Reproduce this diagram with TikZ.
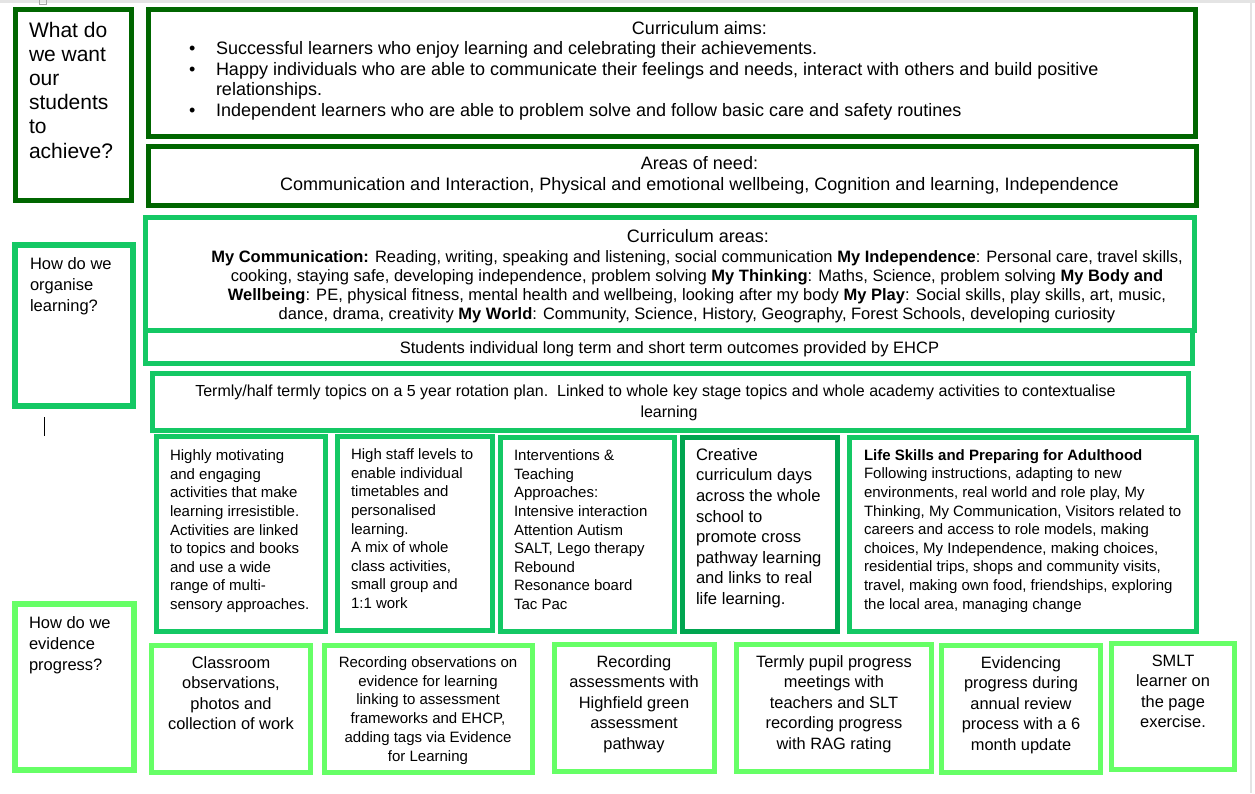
\documentclass[tikz,border=0pt]{standalone}
\usepackage{fontspec}
\setmainfont{Liberation Sans}
\definecolor{dkgreen}{HTML}{006600}
\definecolor{mdgreen}{HTML}{14C864}
\definecolor{bxgreen}{HTML}{00A550}
\definecolor{ltgreen}{HTML}{66FF66}
\definecolor{pagegray}{HTML}{E4E4E4}
\newcommand\bx[7]{%
  \node[boxnode, draw=#7, line width=#6pt, minimum width={#4-#2-#6}, minimum height={#5-#3-#6}] (#1) at ({(#2+#4)/2},{(#3+#5)/2}) {};}
\begin{document}
\begin{tikzpicture}[x=1pt,y=-1pt,
  boxnode/.style={inner sep=0, outer sep=0, fill=white},
  txt/.style={inner sep=0, outer sep=0, align=left, anchor=base west},
  ctxt/.style={inner sep=0, outer sep=0, align=center, anchor=base},
  fA/.style={font={\fontsize{21}{24.2}\selectfont}},
  fB/.style={font={\fontsize{18}{20.6}\selectfont}},
  fC/.style={font={\fontsize{16.5}{19}\selectfont}},
  fD/.style={font={\fontsize{16.5}{21}\selectfont}},
  fE/.style={font={\fontsize{15}{18.6}\selectfont}},
  fF/.style={font={\fontsize{16.6}{20.6}\selectfont}},
  fG/.style={font={\fontsize{16.4}{20.5}\selectfont}},
  fH/.style={font={\fontsize{15}{18.7}\selectfont}},
  fI/.style={font={\fontsize{16}{21}\selectfont}},
]
\useasboundingbox (0,0) rectangle (1255,793);
\fill[white] (0,0) rectangle (1255,793);
% page chrome
\fill[pagegray] (0,0) rectangle (1255,3);
\fill[pagegray] (1250,0) rectangle (1252,793);
\draw[gray!70, line width=0.8] (39,-2) rectangle (46,4);
\draw[black, line width=1] (44,417) -- (44,436);

% ---------- top section (dark green)
\bx{qA}{13}{7}{134}{203}{5}{dkgreen}
\bx{aims}{146}{7}{1198}{139}{5}{dkgreen}
\bx{need}{146}{144}{1199}{208}{5}{dkgreen}

% multi-line nodes: anchor is the baseline of the LAST line
\node[txt, fA] (qAt) at (29,158) {What do\\we want\\our\\students\\to\\achieve?};

\node[ctxt, fB] (aimsT) at (699.5,34.5) {Curriculum aims:};
\node[txt, fB] (aimsB) at (189,116.5) {•\\•\\\mbox{}\\•};
\node[txt, fB] (aimsL) at (216,116.5) {Successful learners who enjoy learning and celebrating their achievements.\\Happy individuals who are able to communicate their feelings and needs, interact with others and build positive\\relationships.\\Independent learners who are able to problem solve and follow basic care and safety routines};

\node[ctxt, fB] (needT) at (699.5,190.2) {Areas of need:\\Communication and Interaction, Physical and emotional wellbeing, Cognition and learning, Independence};

% ---------- middle section (medium green)
\bx{qB}{12}{242}{136}{409}{6}{mdgreen}
\bx{ehcp}{143}{328}{1195}{366}{5}{mdgreen}
\bx{areas}{143}{215}{1197}{333}{5}{mdgreen}
\bx{termly}{150}{371}{1191}{433}{5}{mdgreen}

\node[txt, fD] (qBt) at (30,311) {How do we\\organise\\learning?};

\node[ctxt, fB] (areasT) at (698,242.5) {Curriculum areas:};
\node[ctxt, fC] (areasB) at (697,319) {\textbf{My Communication:} Reading, writing, speaking and listening, social communication \textbf{My Independence}: Personal care, travel skills,\\cooking, staying safe, developing independence, problem solving \textbf{My Thinking}: Maths, Science, problem solving \textbf{My Body and}\\\textbf{Wellbeing}: PE, physical fitness, mental health and wellbeing, looking after my body \textbf{My Play}: Social skills, play skills, art, music,\\dance, drama, creativity \textbf{My World}: Community, Science, History, Geography, Forest Schools, developing curiosity};

\node[ctxt, fC] (ehcpT) at (669.5,353) {Students individual long term and short term outcomes provided by EHCP};

\node[ctxt, fI] (termlyT) at (669,417) {Termly/half termly topics on a 5 year rotation plan.\ \ Linked to whole key stage topics and whole academy activities to contextualise\hspace*{27pt}\\learning};

% ---------- row of approaches
\bx{r1}{154}{434}{328}{634}{5}{mdgreen}
\bx{r2}{335}{434}{495}{633}{5}{mdgreen}
\bx{r3}{498}{435}{677}{634}{5}{mdgreen}
\bx{r4}{680}{435}{840}{634}{5}{bxgreen}
\bx{r5}{847}{435}{1199}{634}{5}{mdgreen}

\node[txt, fE] (r1t) at (170,609.5) {Highly motivating\\and engaging\\activities that make\\learning irresistible.\\Activities are linked\\to topics and books\\and use a wide\\range of multi-\\sensory approaches.};
\node[txt, fE] (r2t) at (351,608.5) {High staff levels to\\enable individual\\timetables and\\personalised\\learning.\\A mix of whole\\class activities,\\small group and\\1:1 work};
\node[txt, fE] (r3t) at (514,609.5) {Interventions \&\\Teaching\\Approaches:\\Intensive interaction\\Attention Autism\\SALT, Lego therapy\\Rebound\\Resonance board\\Tac Pac};
\node[txt, fF] (r4t) at (696,604.5) {Creative\\curriculum days\\across the whole\\school to\\promote cross\\pathway learning\\and links to real\\life learning.};
\node[txt, fE] (r5t) at (864,609) {\textbf{Life Skills and Preparing for Adulthood}\\Following instructions, adapting to new\\environments, real world and role play, My\\Thinking, My Communication, Visitors related to\\careers and access to role models, making\\choices, My Independence, making choices,\\residential trips, shops and community visits,\\travel, making own food, friendships, exploring\\the local area, managing change};

% ---------- evidence section (light green)
\bx{qC}{12}{601}{137}{773}{6}{ltgreen}
\node[txt, fD] (qCt) at (29,670) {How do we\\evidence\\progress?};

\bx{b1}{149}{643}{313}{775}{5}{ltgreen}
\bx{b2}{322}{643}{535}{775}{5}{ltgreen}
\bx{b3}{552}{642}{717}{774}{5}{ltgreen}
\bx{b4}{734}{642}{934}{774}{5}{ltgreen}
\bx{b5}{939}{643}{1103}{775}{5}{ltgreen}
\bx{b6}{1109}{641}{1237}{772}{5}{ltgreen}

\node[ctxt, fG] (b1t) at (231,729.5) {Classroom\\observations,\\photos and\\collection of work};
\node[ctxt, fH] (b2t) at (428,761) {Recording observations on\\evidence for learning\\linking to assessment\\frameworks and EHCP,\\adding tags via Evidence\\for Learning};
\node[ctxt, fG] (b3t) at (634,749) {Recording\\assessments with\\Highfield green\\assessment\\pathway};
\node[ctxt, fG] (b4t) at (834,749) {Termly pupil progress\\meetings with\\teachers and SLT\\recording progress\\with RAG rating};
\node[ctxt, fG] (b5t) at (1021,750) {Evidencing\\progress during\\annual review\\process with a 6\\month update};
\node[ctxt, fG] (b6t) at (1173,727.5) {SMLT\\learner on\\the page\\exercise.};
\end{tikzpicture}
\end{document}
